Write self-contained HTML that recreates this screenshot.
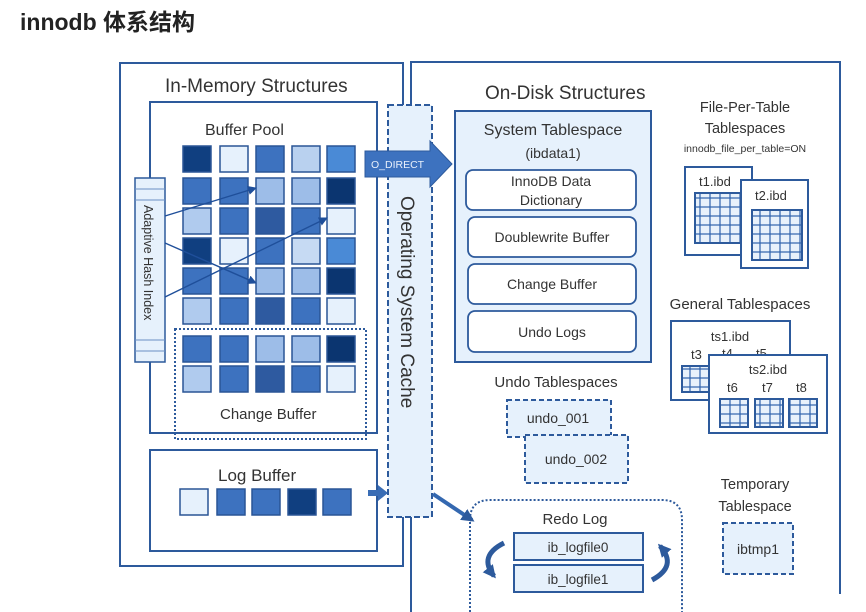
<!DOCTYPE html>
<html><head><meta charset="utf-8"><style>
body{margin:0;background:#fff;width:866px;height:612px;overflow:hidden}
svg{position:absolute;left:0;top:0}
text{font-family:"Liberation Sans","Noto Sans CJK SC",sans-serif;fill:#333}
</style></head><body>
<svg width="866" height="612" viewBox="0 0 866 612">
<defs>
<pattern id="g" width="10" height="9" patternUnits="userSpaceOnUse"><rect width="10" height="9" fill="#e8f1fb" stroke="#2f62ac" stroke-width="1.2"/></pattern>
<marker id="ah" markerUnits="userSpaceOnUse" markerWidth="9" markerHeight="9" refX="8" refY="4.5" orient="auto"><path d="M0,0 L9,4.5 L0,9z" fill="#1f4f9a"/></marker>
<marker id="ahb" markerUnits="userSpaceOnUse" markerWidth="13" markerHeight="13" refX="10" refY="6.5" orient="auto"><path d="M0,0 L13,6.5 L0,13z" fill="#2d5a9c"/></marker>
</defs>
<text x="20" y="30" font-size="23" font-weight="bold" fill="#222" style="fill:#222">innodb 体系结构</text>

<rect x="120" y="63" width="283" height="503" fill="none" stroke="#2d5a9c" stroke-width="2"/>
<text x="165" y="92" font-size="19">In-Memory Structures</text>
<rect x="150" y="102" width="227" height="331" fill="#fff" stroke="#2d5a9c" stroke-width="2"/>
<text x="205" y="135" font-size="16">Buffer Pool</text>
<rect x="175" y="329" width="191" height="110" fill="none" stroke="#2d5a9c" stroke-width="2" stroke-dasharray="2,2"/>
<text x="220" y="419" font-size="15">Change Buffer</text>
<g stroke="#2a5595" stroke-width="1.5">
<rect x="183" y="146" width="28" height="26" fill="#103f80"/><rect x="220" y="146" width="28" height="26" fill="#e6f1fc"/><rect x="256" y="146" width="28" height="26" fill="#3d72bf"/><rect x="292" y="146" width="28" height="26" fill="#b9d1ef"/><rect x="327" y="146" width="28" height="26" fill="#4a8ad6"/>
<rect x="183" y="178" width="28" height="26" fill="#3d72bf"/><rect x="220" y="178" width="28" height="26" fill="#3d72bf"/><rect x="256" y="178" width="28" height="26" fill="#9dbde8"/><rect x="292" y="178" width="28" height="26" fill="#9dbde8"/><rect x="327" y="178" width="28" height="26" fill="#0b3570"/>
<rect x="183" y="208" width="28" height="26" fill="#b0cbee"/><rect x="220" y="208" width="28" height="26" fill="#3d72bf"/><rect x="256" y="208" width="28" height="26" fill="#2e5aa0"/><rect x="292" y="208" width="28" height="26" fill="#3d72bf"/><rect x="327" y="208" width="28" height="26" fill="#e6f1fc"/>
<rect x="183" y="238" width="28" height="26" fill="#103f80"/><rect x="220" y="238" width="28" height="26" fill="#e6f1fc"/><rect x="256" y="238" width="28" height="26" fill="#3d72bf"/><rect x="292" y="238" width="28" height="26" fill="#c6daf3"/><rect x="327" y="238" width="28" height="26" fill="#4a8ad6"/>
<rect x="183" y="268" width="28" height="26" fill="#3d72bf"/><rect x="220" y="268" width="28" height="26" fill="#3d72bf"/><rect x="256" y="268" width="28" height="26" fill="#9dbde8"/><rect x="292" y="268" width="28" height="26" fill="#9dbde8"/><rect x="327" y="268" width="28" height="26" fill="#0b3570"/>
<rect x="183" y="298" width="28" height="26" fill="#b0cbee"/><rect x="220" y="298" width="28" height="26" fill="#3d72bf"/><rect x="256" y="298" width="28" height="26" fill="#2e5aa0"/><rect x="292" y="298" width="28" height="26" fill="#3d72bf"/><rect x="327" y="298" width="28" height="26" fill="#e6f1fc"/>
<rect x="183" y="336" width="28" height="26" fill="#3d72bf"/><rect x="220" y="336" width="28" height="26" fill="#3d72bf"/><rect x="256" y="336" width="28" height="26" fill="#9dbde8"/><rect x="292" y="336" width="28" height="26" fill="#9dbde8"/><rect x="327" y="336" width="28" height="26" fill="#0b3570"/>
<rect x="183" y="366" width="28" height="26" fill="#b0cbee"/><rect x="220" y="366" width="28" height="26" fill="#3d72bf"/><rect x="256" y="366" width="28" height="26" fill="#2e5aa0"/><rect x="292" y="366" width="28" height="26" fill="#3d72bf"/><rect x="327" y="366" width="28" height="26" fill="#e6f1fc"/>
</g>
<rect x="135" y="178" width="30" height="184" fill="#e6f1fc" stroke="#2d5a9c" stroke-width="1.5"/>
<g stroke="#6b8fc4" stroke-width="1"><line x1="135" y1="189" x2="165" y2="189"/><line x1="135" y1="200" x2="165" y2="200"/><line x1="135" y1="340" x2="165" y2="340"/><line x1="135" y1="351" x2="165" y2="351"/></g>
<text transform="translate(144,205) rotate(90)" font-size="12.5">Adaptive Hash Index</text>
<g stroke="#1f4f9a" stroke-width="1.4" fill="none" marker-end="url(#ah)">
<line x1="165" y1="216" x2="256" y2="188"/><line x1="165" y1="243" x2="256" y2="283"/><line x1="165" y1="297" x2="327" y2="218"/></g>
<rect x="150" y="450" width="227" height="101" fill="#fff" stroke="#2d5a9c" stroke-width="2"/>
<text x="218" y="481" font-size="17">Log Buffer</text>
<g stroke="#2a5595" stroke-width="1.5">
<rect x="180" y="489" width="28" height="26" fill="#e6f1fc"/><rect x="217" y="489" width="28" height="26" fill="#3d72bf"/><rect x="252" y="489" width="28" height="26" fill="#3d72bf"/><rect x="288" y="489" width="28" height="26" fill="#103f80"/><rect x="323" y="489" width="28" height="26" fill="#3d72bf"/></g>
<path d="M368,490 L378,490 L378,485 L388,493 L378,501 L378,496 L368,496z" fill="#3a6db5"/>

<polyline points="411,105 411,62 840,62 840,594" fill="none" stroke="#2d5a9c" stroke-width="2"/>
<line x1="411" y1="517" x2="411" y2="612" stroke="#2d5a9c" stroke-width="2"/>
<text x="485" y="99" font-size="19">On-Disk Structures</text>
<rect x="388" y="105" width="44" height="412" fill="#e6f1fc" stroke="#2d5a9c" stroke-width="2" stroke-dasharray="6,3"/>
<text transform="translate(401,196) rotate(90)" font-size="19">Operating System Cache</text>
<path d="M365,151 L430,151 L430,141 L452,164 L430,187 L430,177 L365,177z" fill="#3d72bf" stroke="#2d5a9c"/>
<text x="371" y="168" font-size="10.5" style="fill:#e8f0fb">O_DIRECT</text>
<path d="M433,494 L472,520" stroke="#3468b0" stroke-width="4" marker-end="url(#ahb)"/>

<rect x="455" y="111" width="196" height="251" fill="#e6f1fc" stroke="#2d5a9c" stroke-width="2"/>
<text x="553" y="135" font-size="16" text-anchor="middle">System Tablespace</text>
<text x="553" y="158" font-size="14" text-anchor="middle">(ibdata1)</text>
<g fill="#fff" stroke="#2d5a9c" stroke-width="1.8">
<rect x="466" y="170" width="170" height="40" rx="7"/><rect x="468" y="217" width="168" height="40" rx="7"/><rect x="468" y="264" width="168" height="40" rx="7"/><rect x="468" y="311" width="168" height="41" rx="7"/></g>
<g font-size="14" text-anchor="middle"><text x="551" y="186">InnoDB Data</text><text x="551" y="205">Dictionary</text><text x="552" y="242">Doublewrite Buffer</text><text x="552" y="289">Change Buffer</text><text x="552" y="337">Undo Logs</text></g>
<text x="556" y="387" font-size="15" text-anchor="middle">Undo Tablespaces</text>
<rect x="507" y="400" width="104" height="37" fill="#e6f1fc" stroke="#2d5a9c" stroke-width="2" stroke-dasharray="5,3"/>
<text x="558" y="423" font-size="14" text-anchor="middle">undo_001</text>
<rect x="525" y="435" width="103" height="48" fill="#e6f1fc" stroke="#2d5a9c" stroke-width="2" stroke-dasharray="5,3"/>
<text x="576" y="464" font-size="14" text-anchor="middle">undo_002</text>

<path d="M470,612 L470,520 Q470,500 490,500 L662,500 Q682,500 682,520 L682,612" fill="none" stroke="#2d5a9c" stroke-width="2" stroke-dasharray="2,2"/>
<text x="575" y="524" font-size="15" text-anchor="middle">Redo Log</text>
<rect x="514" y="533" width="129" height="27" fill="#e6f1fc" stroke="#2d5a9c" stroke-width="2"/>
<rect x="514" y="565" width="129" height="27" fill="#e6f1fc" stroke="#2d5a9c" stroke-width="2"/>
<text x="578" y="552" font-size="13.5" text-anchor="middle">ib_logfile0</text>
<text x="578" y="584" font-size="13.5" text-anchor="middle">ib_logfile1</text>
<path d="M504,543 Q478,556 494,576" fill="none" stroke="#2d5a9c" stroke-width="5" marker-end="url(#ahb)"/>
<path d="M652,580 Q678,566 660,546" fill="none" stroke="#2d5a9c" stroke-width="5" marker-end="url(#ahb)"/>

<text x="745" y="112" font-size="14.5" text-anchor="middle">File-Per-Table</text>
<text x="745" y="133" font-size="14.5" text-anchor="middle">Tablespaces</text>
<text x="745" y="152" font-size="10.5" text-anchor="middle">innodb_file_per_table=ON</text>
<rect x="685" y="167" width="67" height="88" fill="#fff" stroke="#2d5a9c" stroke-width="2"/>
<text x="699" y="186" font-size="13">t1.ibd</text>
<rect x="695" y="193" width="50" height="50" fill="url(#g)" stroke="#2d5a9c" stroke-width="2"/>
<rect x="741" y="180" width="67" height="88" fill="#fff" stroke="#2d5a9c" stroke-width="2"/>
<text x="755" y="200" font-size="13">t2.ibd</text>
<rect x="752" y="210" width="50" height="50" fill="url(#g)" stroke="#2d5a9c" stroke-width="2"/>

<text x="740" y="309" font-size="15" text-anchor="middle">General Tablespaces</text>
<rect x="671" y="321" width="119" height="79" fill="#fff" stroke="#2d5a9c" stroke-width="2"/>
<text x="730" y="341" font-size="13" text-anchor="middle">ts1.ibd</text>
<text x="691" y="359" font-size="13">t3</text><text x="722" y="358" font-size="13">t4</text><text x="756" y="358" font-size="13">t5</text>
<rect x="682" y="366" width="29" height="26" fill="url(#g)" stroke="#2d5a9c" stroke-width="2"/>
<rect x="709" y="355" width="118" height="78" fill="#fff" stroke="#2d5a9c" stroke-width="2"/>
<text x="768" y="374" font-size="13" text-anchor="middle">ts2.ibd</text>
<text x="727" y="392" font-size="13">t6</text><text x="762" y="392" font-size="13">t7</text><text x="796" y="392" font-size="13">t8</text>
<rect x="720" y="399" width="28" height="28" fill="url(#g)" stroke="#2d5a9c" stroke-width="2"/>
<rect x="755" y="399" width="28" height="28" fill="url(#g)" stroke="#2d5a9c" stroke-width="2"/>
<rect x="789" y="399" width="28" height="28" fill="url(#g)" stroke="#2d5a9c" stroke-width="2"/>

<text x="755" y="489" font-size="14.5" text-anchor="middle">Temporary</text>
<text x="755" y="511" font-size="14.5" text-anchor="middle">Tablespace</text>
<rect x="723" y="523" width="70" height="51" fill="#e6f1fc" stroke="#2d5a9c" stroke-width="2" stroke-dasharray="5,3"/>
<text x="758" y="554" font-size="14" text-anchor="middle">ibtmp1</text>
</svg>
</body></html>
